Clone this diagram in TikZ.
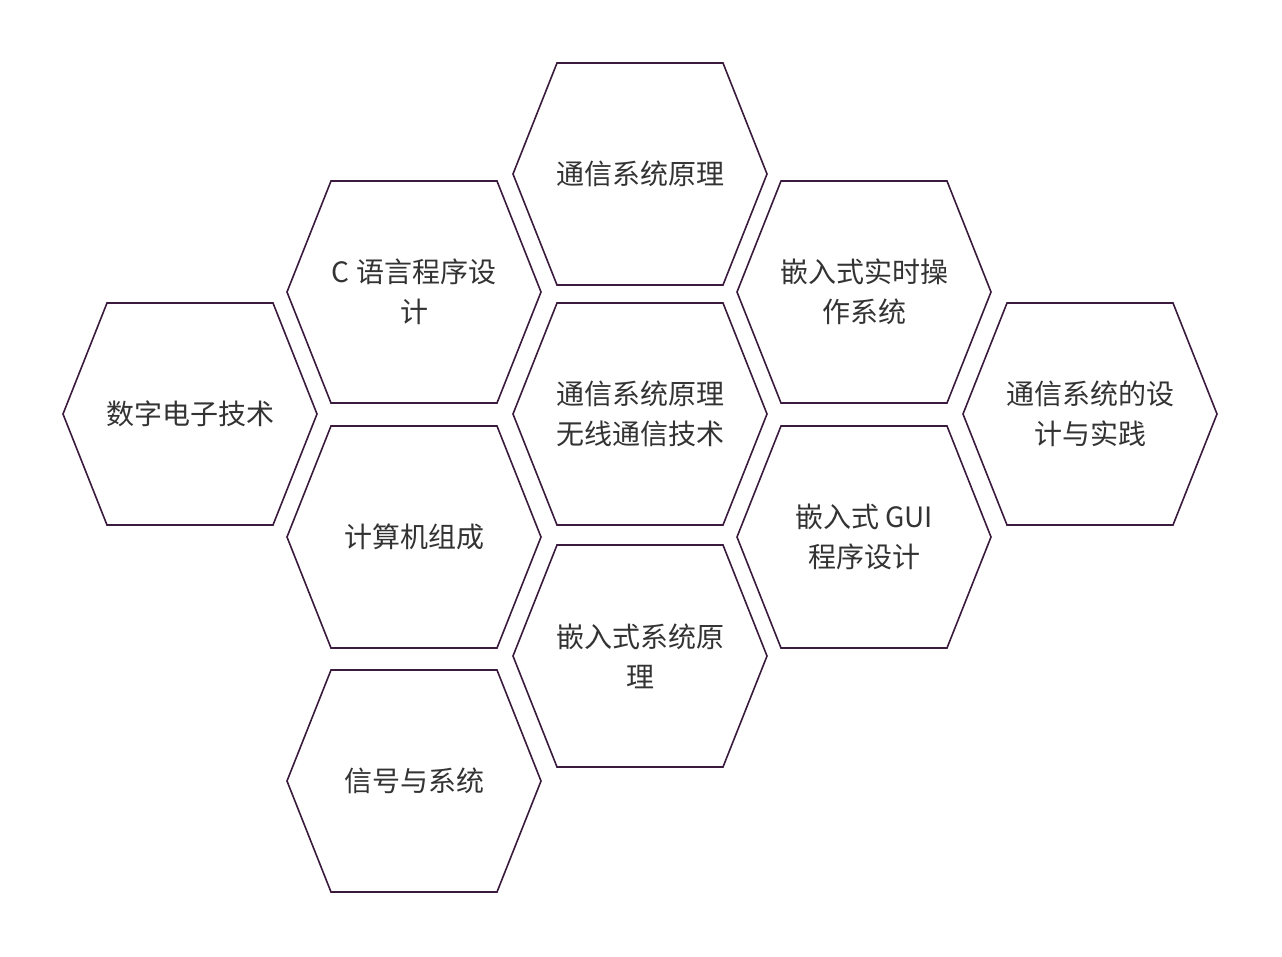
\documentclass[tikz,border=0pt]{standalone}
\usepackage{fontspec}
\setmainfont{Noto Sans CJK SC}
\begin{document}
\begin{tikzpicture}[x=1pt,y=-1pt,
  hexl/.style={draw=hexc,line width=1.6pt,line join=miter},
  lbl/.style={align=center,font=\fontsize{28}{40}\selectfont,text=txtc}]
\definecolor{hexc}{HTML}{3A1B3E}
\definecolor{txtc}{HTML}{333333}
\fill[white] (0,0) rectangle (1282,956);
\useasboundingbox (0,0) rectangle (1282,956);
\newcommand{\hexat}[4]{%
  \draw[hexl] (#1-127,#2) -- (#1-83,#2-111) -- (#1+83,#2-111) -- (#1+127,#2) -- (#1+83,#2+111) -- (#1-83,#2+111) -- cycle;
  \node[lbl] (#3) at (#1,#2) {#4};}
\hexat{190}{414}{a}{数字电子技术}
\hexat{414}{292}{b}{C 语言程序设\\计}
\hexat{414}{537}{c}{计算机组成}
\hexat{414}{781}{d}{信号与系统}
\hexat{640}{174}{e}{通信系统原理}
\hexat{640}{414}{f}{通信系统原理\\无线通信技术}
\hexat{640}{656}{g}{嵌入式系统原\\理}
\hexat{864}{292}{h}{嵌入式实时操\\作系统}
\hexat{864}{537}{i}{嵌入式 GUI\\程序设计}
\hexat{1090}{414}{j}{通信系统的设\\计与实践}
\end{tikzpicture}
\end{document}
